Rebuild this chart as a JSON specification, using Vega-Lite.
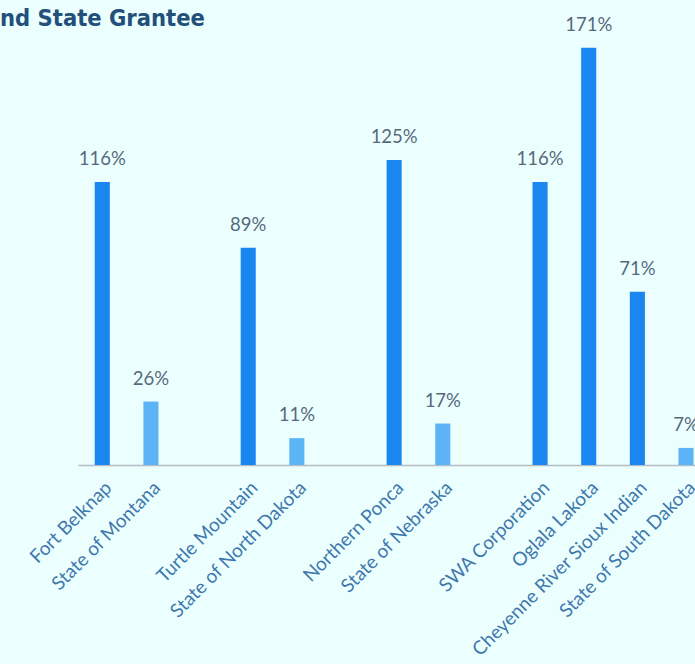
{
  "$schema": "https://vega.github.io/schema/vega-lite/v6.json",
  "autosize": {"type": "none"},
  "padding": {"left": 78, "top": 36, "right": 0, "bottom": 199},
  "width": 617,
  "height": 429,
  "background": "#ecffff",
  "title": {
    "text": "nd State Grantee",
    "anchor": "start",
    "frame": "group",
    "dx": -78,
    "dy": 19,
    "offset": 4,
    "fontSize": 23.5,
    "font": "DejaVu Sans Condensed, sans-serif",
    "fontWeight": "bold",
    "color": "#22507a"
  },
  "data": {
    "values": [
      {"name": "Fort Belknap", "value": 1.16, "type": "tribe"},
      {"name": "State of Montana", "value": 0.26, "type": "state"},
      {"name": "Turtle Mountain", "value": 0.89, "type": "tribe"},
      {"name": "State of North Dakota", "value": 0.11, "type": "state"},
      {"name": "Northern Ponca", "value": 1.25, "type": "tribe"},
      {"name": "State of Nebraska", "value": 0.17, "type": "state"},
      {"name": "SWA Corporation", "value": 1.16, "type": "tribe"},
      {"name": "Oglala Lakota", "value": 1.71, "type": "tribe"},
      {"name": "Cheyenne River Sioux Indian", "value": 0.71, "type": "tribe"},
      {"name": "State of South Dakota", "value": 0.07, "type": "state"}
    ]
  },
  "encoding": {
    "x": {
      "field": "name",
      "type": "nominal",
      "scale": {
        "domain": ["Fort Belknap", "State of Montana", " ", "Turtle Mountain", "State of North Dakota", "  ", "Northern Ponca", "State of Nebraska", "   ", "SWA Corporation", "Oglala Lakota", "Cheyenne River Sioux Indian", "State of South Dakota"],
        "paddingInner": 0.69,
        "paddingOuter": 0.187,
        "align": 0.92
      },
      "axis": {
        "title": null,
        "labelAngle": -45,
        "labelFont": "Lato",
        "labelFontSize": 19,
        "labelColor": "#3f78ad",
        "labelPadding": 13,
        "labelLimit": 500,
        "ticks": false,
        "domainColor": "#b4bcc4",
        "domainWidth": 1.5,
        "labelOverlap": false,
        "labelBound": false,
        "labelFlush": false
      }
    },
    "y": {
      "field": "value",
      "type": "quantitative",
      "scale": {"domain": [0, 1.758], "nice": false},
      "axis": null
    }
  },
  "layer": [
    {
      "mark": {"type": "bar"},
      "encoding": {
        "color": {
          "field": "type",
          "type": "nominal",
          "scale": {"domain": ["tribe", "state"], "range": ["#1a86f0", "#5cb4f7"]},
          "legend": null
        }
      }
    },
    {
      "mark": {"type": "text", "baseline": "alphabetic", "dy": -17, "font": "Lato", "fontSize": 18.5, "color": "#56697c"},
      "encoding": {
        "text": {"field": "value", "type": "quantitative", "format": ".0%"}
      }
    }
  ],
  "config": {"view": {"stroke": null}}
}
